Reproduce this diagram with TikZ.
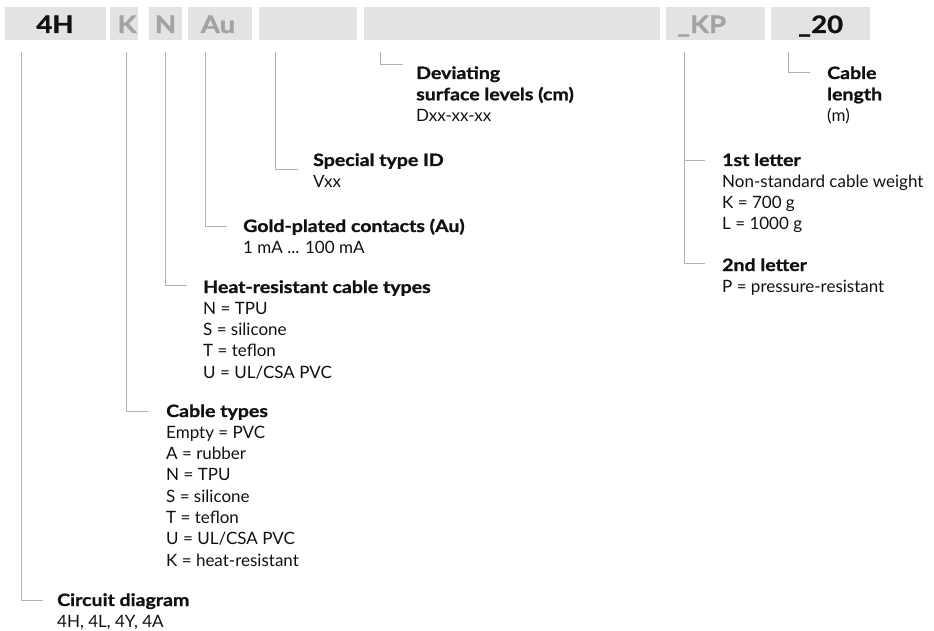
\documentclass[tikz,border=0pt]{standalone}
\usepackage{fontspec}
\setmainfont{Lato}
\newfontfamily\boldwide{Lato}[FakeStretch=1.15, BoldFeatures={FakeBold=1.2}]
\definecolor{boxgray}{HTML}{E3E3E3}
\definecolor{codegray}{HTML}{A3A3A3}
\definecolor{linegray}{HTML}{B0B0B0}
\definecolor{ink}{HTML}{111111}
\newcommand\Lb[1]{\hbox{\boldwide\bfseries #1}}
\newcommand\Lr[1]{\hbox{#1}}
\newcommand\blk[1]{\vtop{\baselineskip=21.3pt\lineskiplimit=-100pt #1}}
\tikzset{
  codebox/.style={fill=boxgray, draw=none, inner sep=0pt, minimum height=33pt},
  codetxt/.style={anchor=base, inner sep=0pt, font=\fontsize{24}{24}\boldwide\bfseries},
  conn/.style={draw=linegray, line width=0.9pt},
  desc/.style={anchor=base west, inner sep=0pt, text=ink, font=\fontsize{17}{21.3}\selectfont},
}
\begin{document}
\begin{tikzpicture}[x=1pt,y=-1pt]
\useasboundingbox (0,0) rectangle (934,631);
% code boxes
\node[codebox, minimum width=101pt] (b4H) at (55.5,23.5) {};
\node[codebox, minimum width=28pt]  (bK)  at (124,23.5) {};
\node[codebox, minimum width=33pt]  (bN)  at (165.5,23.5) {};
\node[codebox, minimum width=64pt]  (bAu) at (220,23.5) {};
\node[codebox, minimum width=98pt]  (bV)  at (308,23.5) {};
\node[codebox, minimum width=296pt] (bD)  at (512,23.5) {};
\node[codebox, minimum width=99pt]  (bKP) at (715.5,23.5) {};
\node[codebox, minimum width=99pt]  (b20) at (820.5,23.5) {};
% code labels
\node[codetxt, text=ink]      (l4H) at (55,33) {4H};
\node[codetxt, text=codegray] (lK)  at (127,33) {K};
\node[codetxt, text=codegray] (lN)  at (165.5,33) {N};
\node[codetxt, text=codegray] (lAu) at (218,33) {Au};
\node[codetxt, text=codegray, anchor=base west] (lKP) at (677,33) {\_KP};
\node[codetxt, text=ink, anchor=base west]      (l20) at (798,33) {\_20};
% connector ends
\coordinate (t4H) at (21,52);  \coordinate (e4H) at (43,600);
\coordinate (tK)  at (126,52); \coordinate (eK)  at (148,411);
\coordinate (tN)  at (165,52); \coordinate (eN)  at (187,285);
\coordinate (tAu) at (205,52); \coordinate (eAu) at (227,226);
\coordinate (tV)  at (275,52); \coordinate (eV)  at (298,169);
\coordinate (tD)  at (380,52); \coordinate (eD)  at (403,64);
\coordinate (tKP) at (684,52); \coordinate (eKPa) at (705,160); \coordinate (eKPb) at (705,263);
\coordinate (t20) at (788,52); \coordinate (e20) at (810,72);
\draw[conn] (t4H) |- (e4H);
\draw[conn] (tK) |- (eK);
\draw[conn] (tN) |- (eN);
\draw[conn] (tAu) |- (eAu);
\draw[conn] (tV) |- (eV);
\draw[conn] (tD) |- (eD);
\draw[conn] (tKP) |- (eKPb);
\draw[conn] (eKPa -| tKP) -- (eKPa);
\draw[conn] (t20) |- (e20);
% descriptions
\node[desc] (dCirc) at (57,606) {\blk{\Lb{Circuit diagram}\Lr{4H, 4L, 4Y, 4A}}};
\node[desc] (dCab) at (166,417) {\blk{\Lb{Cable types}\Lr{Empty = PVC}\Lr{A = rubber}\Lr{N = TPU}\Lr{S = silicone}\Lr{T = teflon}\Lr{U = UL/CSA PVC}\Lr{K = heat-resistant}}};
\node[desc] (dHeat) at (203,293) {\blk{\Lb{Heat-resistant cable types}\Lr{N = TPU}\Lr{S = silicone}\Lr{T = teflon}\Lr{U = UL/CSA PVC}}};
\node[desc] (dGold) at (243,232) {\blk{\Lb{Gold-plated contacts (Au)}\Lr{1 mA ... 100 mA}}};
\node[desc] (dSpec) at (313,166) {\blk{\Lb{Special type ID}\Lr{Vxx}}};
\node[desc] (dDev) at (416,79) {\blk{\Lb{Deviating}\Lb{surface levels (cm)}\Lr{Dxx-xx-xx}}};
\node[desc] (dLen) at (827,79) {\blk{\Lb{Cable}\Lb{length}\Lr{(m)}}};
\node[desc] (dL1) at (722,166) {\blk{\Lb{1st letter}\Lr{Non-standard cable weight}\Lr{K = 700 g}\Lr{L = 1000 g}}};
\node[desc] (dL2) at (722,271) {\blk{\Lb{2nd letter}\Lr{P = pressure-resistant}}};
\end{tikzpicture}
\end{document}
